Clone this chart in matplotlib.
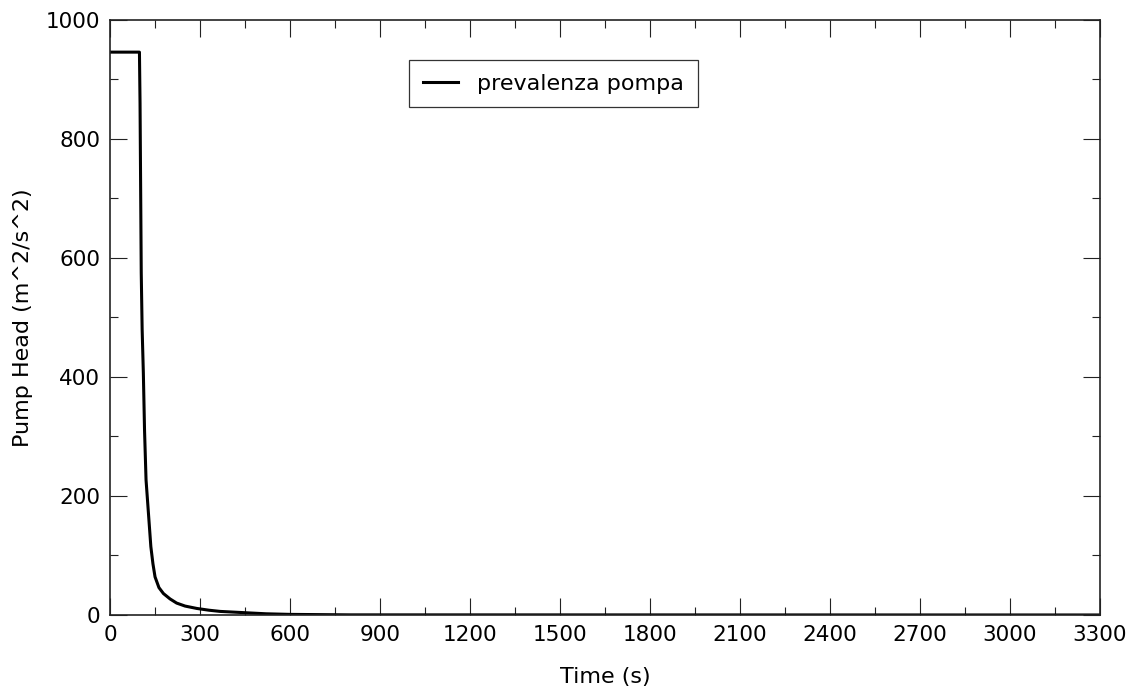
# Pump head transient after trip
import numpy as np
import matplotlib.pyplot as plt
from matplotlib.ticker import MultipleLocator

time_s = [0, 98, 100, 104, 107, 111, 115, 120, 128, 136, 143, 150, 163, 178,
          200, 222, 250, 289, 330, 367, 443, 520, 600, 800, 3300]
head = [946, 946, 860, 575, 480, 407, 310, 227, 171, 115, 86, 64, 46, 36,
        27, 20, 15, 11, 8, 6, 4, 2, 1, 0.2, 0]

plt.rcParams['font.family'] = 'DejaVu Sans'

fig = plt.figure(figsize=(11.38, 6.92), dpi=100)
ax = fig.add_axes([0.0967, 0.1113, 0.8699, 0.8598])

ax.plot(time_s, head, color='black', linewidth=2.2, label='prevalenza pompa')

ax.set_xlim(0, 3300)
ax.set_ylim(0, 1000)
ax.xaxis.set_major_locator(MultipleLocator(300))
ax.xaxis.set_minor_locator(MultipleLocator(150))
ax.yaxis.set_major_locator(MultipleLocator(200))
ax.yaxis.set_minor_locator(MultipleLocator(100))
ax.tick_params(which='both', direction='in', top=True, right=True,
               width=0.8, colors='#222222', labelsize=15.5, labelcolor='black')
ax.tick_params(which='major', length=12)
ax.tick_params(which='minor', length=6)
ax.tick_params(axis='x', pad=7)
ax.tick_params(axis='y', pad=7)
for sp in ax.spines.values():
    sp.set_linewidth(1.2)
    sp.set_color('#222222')

ax.set_xlabel('Time (s)', fontsize=16, labelpad=16)
ax.set_ylabel('Pump Head (m^2/s^2)', fontsize=16, labelpad=9)

leg = ax.legend(loc='upper left', bbox_to_anchor=(0.302, 0.933), fontsize=16,
                frameon=True, fancybox=False, handlelength=1.6,
                handletextpad=0.85, borderpad=0.62, borderaxespad=0)
leg.get_frame().set_edgecolor('black')
leg.get_frame().set_linewidth(0.9)

fig.savefig('out.png', dpi=100)
